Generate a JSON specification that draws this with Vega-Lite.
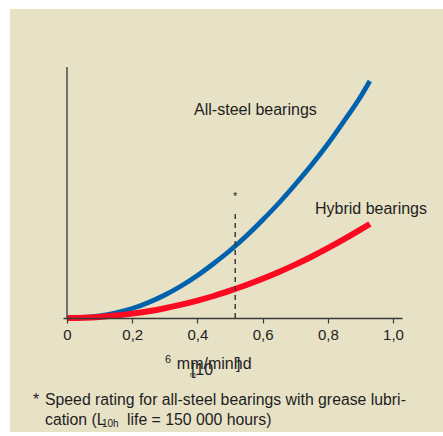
{
  "$schema": "https://vega.github.io/schema/vega-lite/v6.json",
  "autosize": "none",
  "width": 339,
  "height": 251,
  "padding": {"left": 63, "top": 67, "right": 41, "bottom": 118},
  "background": "white",
  "data": {"values": [{"one": 1}]},
  "config": {
    "view": {"stroke": null},
    "font": "Liberation Sans",
    "locale": {"number": {"decimal": ",", "thousands": " ", "grouping": [3], "currency": ["", ""]}},
    "axisX": {
      "title": null,
      "zindex": 2,
      "grid": false,
      "domainColor": "#3a3a3a",
      "domainWidth": 1.5,
      "tickColor": "#3a3a3a",
      "tickWidth": 1.2,
      "tickSize": 5,
      "labelFont": "Liberation Sans",
      "labelFontSize": 15,
      "labelColor": "#222222",
      "labelPadding": 4,
      "labelFlush": false,
      "labelOverlap": false
    }
  },
  "datasets": {
    "curves": [
      {"series": "All-steel", "x": 0, "y": 0},
      {"series": "All-steel", "x": 0.05, "y": 0.5},
      {"series": "All-steel", "x": 0.1, "y": 2.2},
      {"series": "All-steel", "x": 0.15, "y": 5.2},
      {"series": "All-steel", "x": 0.2, "y": 9.5},
      {"series": "All-steel", "x": 0.25, "y": 15.5},
      {"series": "All-steel", "x": 0.3, "y": 23},
      {"series": "All-steel", "x": 0.35, "y": 32},
      {"series": "All-steel", "x": 0.4, "y": 42.5},
      {"series": "All-steel", "x": 0.45, "y": 54.5},
      {"series": "All-steel", "x": 0.5, "y": 67.5},
      {"series": "All-steel", "x": 0.55, "y": 82},
      {"series": "All-steel", "x": 0.6, "y": 98},
      {"series": "All-steel", "x": 0.65, "y": 115},
      {"series": "All-steel", "x": 0.7, "y": 133.5},
      {"series": "All-steel", "x": 0.75, "y": 153},
      {"series": "All-steel", "x": 0.8, "y": 174},
      {"series": "All-steel", "x": 0.85, "y": 197},
      {"series": "All-steel", "x": 0.9, "y": 221},
      {"series": "All-steel", "x": 0.929, "y": 237},
      {"series": "Hybrid", "x": 0, "y": 0},
      {"series": "Hybrid", "x": 0.05, "y": 0.3},
      {"series": "Hybrid", "x": 0.1, "y": 1.1},
      {"series": "Hybrid", "x": 0.15, "y": 2.5},
      {"series": "Hybrid", "x": 0.2, "y": 4.4},
      {"series": "Hybrid", "x": 0.25, "y": 6.8},
      {"series": "Hybrid", "x": 0.3, "y": 9.8},
      {"series": "Hybrid", "x": 0.35, "y": 13.3},
      {"series": "Hybrid", "x": 0.4, "y": 17.4},
      {"series": "Hybrid", "x": 0.45, "y": 22},
      {"series": "Hybrid", "x": 0.5, "y": 27.3},
      {"series": "Hybrid", "x": 0.55, "y": 33},
      {"series": "Hybrid", "x": 0.6, "y": 39.2},
      {"series": "Hybrid", "x": 0.65, "y": 46},
      {"series": "Hybrid", "x": 0.7, "y": 53.4},
      {"series": "Hybrid", "x": 0.75, "y": 61.3},
      {"series": "Hybrid", "x": 0.8, "y": 69.8},
      {"series": "Hybrid", "x": 0.85, "y": 78.8},
      {"series": "Hybrid", "x": 0.9, "y": 88.3},
      {"series": "Hybrid", "x": 0.929, "y": 94}
    ],
    "labels": [
      {"kind": "annot", "x": 0.578, "y": 208, "text": "All-steel bearings"},
      {"kind": "annot", "x": 0.9325, "y": 109, "text": "Hybrid bearings"},
      {"kind": "small", "x": 0.516, "y": 121, "text": "*"},
      {"kind": "small", "x": 0.3098, "y": -42, "text": "6"},
      {"kind": "title", "x": 0.337, "y": -46, "text": "mm/minhd"},
      {"kind": "title", "x": 0.380, "y": -52, "text": "[10"},
      {"kind": "title", "x": 0.5184, "y": -46, "text": "]"},
      {"kind": "tiny", "x": 0.3773, "y": -57, "text": "m"},
      {"kind": "foot", "x": -0.1043, "y": -82, "text": "*"},
      {"kind": "foot", "x": -0.0675, "y": -82, "text": "Speed rating for all-steel bearings with grease lubri-"},
      {"kind": "foot", "x": -0.0675, "y": -102, "text": "cation (L"},
      {"kind": "sub", "x": 0.107, "y": -106, "text": "10h"},
      {"kind": "foot", "x": 0.184, "y": -102, "text": "life = 150 000 hours)"}
    ]
  },
  "layer": [
    {
      "mark": {"type": "rect", "color": "#e7e1c5", "clip": false},
      "encoding": {
        "x": {"datum": -0.175, "type": "quantitative", "scale": {"domain": [-0.0123, 1.0276], "nice": false, "zero": false}},
        "x2": {"datum": 1.2},
        "y": {"datum": 309, "type": "quantitative", "scale": {"domain": [0, 251], "nice": false, "zero": false}, "axis": null},
        "y2": {"datum": -114}
      }
    },
    {
      "data": {"name": "curves"},
      "mark": {"type": "line", "interpolate": "monotone", "clip": false, "strokeCap": "butt"},
      "encoding": {
        "x": {
          "field": "x", "type": "quantitative",
          "axis": {
            "zindex": 2,
            "values": [0, 0.1, 0.2, 0.3, 0.4, 0.5, 0.6, 0.7, 0.8, 0.9, 1],
            "format": ".1f",
            "labelExpr": "datum.value == 0 ? '0' : ((datum.label == '0,2' || datum.label == '0,4' || datum.label == '0,6' || datum.label == '0,8' || datum.label == '1,0') ? datum.label : '')"
          }
        },
        "y": {"field": "y", "type": "quantitative", "axis": null},
        "color": {"field": "series", "type": "nominal", "scale": {"domain": ["All-steel", "Hybrid"], "range": ["#0062ac", "#fb0a22"]}, "legend": null},
        "strokeWidth": {"field": "series", "type": "nominal", "scale": {"domain": ["All-steel", "Hybrid"], "range": [4.8, 6]}, "legend": null}
      }
    },
    {
      "mark": {"type": "rule", "color": "#4a4a4a", "strokeWidth": 1.5},
      "encoding": {
        "x": {"datum": 0, "type": "quantitative"},
        "y": {"datum": 0, "type": "quantitative", "axis": null},
        "y2": {"datum": 251}
      }
    },
    {
      "mark": {"type": "rule", "color": "#3a3a3a", "strokeWidth": 1.5, "strokeDash": [5, 4]},
      "encoding": {
        "x": {"datum": 0.516, "type": "quantitative"},
        "y": {"datum": 0, "type": "quantitative", "axis": null},
        "y2": {"datum": 106}
      }
    },
    {
      "data": {"name": "labels"},
      "transform": [{"filter": "datum.kind == 'annot'"}],
      "mark": {"type": "text", "fontSize": 16, "align": "center", "baseline": "middle", "color": "#1e1e1e", "clip": false},
      "encoding": {
        "x": {"field": "x", "type": "quantitative"},
        "y": {"field": "y", "type": "quantitative", "axis": null},
        "text": {"field": "text"}
      }
    },
    {
      "data": {"name": "labels"},
      "transform": [{"filter": "datum.kind == 'small'"}],
      "mark": {"type": "text", "fontSize": 11, "align": "center", "baseline": "middle", "color": "#1e1e1e", "clip": false},
      "encoding": {
        "x": {"field": "x", "type": "quantitative"},
        "y": {"field": "y", "type": "quantitative", "axis": null},
        "text": {"field": "text"}
      }
    },
    {
      "data": {"name": "labels"},
      "transform": [{"filter": "datum.kind == 'tiny'"}],
      "mark": {"type": "text", "fontSize": 7, "align": "left", "baseline": "middle", "color": "#1e1e1e", "clip": false},
      "encoding": {
        "x": {"field": "x", "type": "quantitative"},
        "y": {"field": "y", "type": "quantitative", "axis": null},
        "text": {"field": "text"}
      }
    },
    {
      "data": {"name": "labels"},
      "transform": [{"filter": "datum.kind == 'title'"}],
      "mark": {"type": "text", "fontSize": 16, "align": "left", "baseline": "middle", "color": "#1e1e1e", "clip": false},
      "encoding": {
        "x": {"field": "x", "type": "quantitative"},
        "y": {"field": "y", "type": "quantitative", "axis": null},
        "text": {"field": "text"}
      }
    },
    {
      "data": {"name": "labels"},
      "transform": [{"filter": "datum.kind == 'foot'"}],
      "mark": {"type": "text", "fontSize": 15.8, "align": "left", "baseline": "middle", "color": "#1e1e1e", "clip": false},
      "encoding": {
        "x": {"field": "x", "type": "quantitative"},
        "y": {"field": "y", "type": "quantitative", "axis": null},
        "text": {"field": "text"}
      }
    },
    {
      "data": {"name": "labels"},
      "transform": [{"filter": "datum.kind == 'sub'"}],
      "mark": {"type": "text", "fontSize": 10, "align": "left", "baseline": "middle", "color": "#1e1e1e", "clip": false},
      "encoding": {
        "x": {"field": "x", "type": "quantitative"},
        "y": {"field": "y", "type": "quantitative", "axis": null},
        "text": {"field": "text"}
      }
    }
  ]
}
